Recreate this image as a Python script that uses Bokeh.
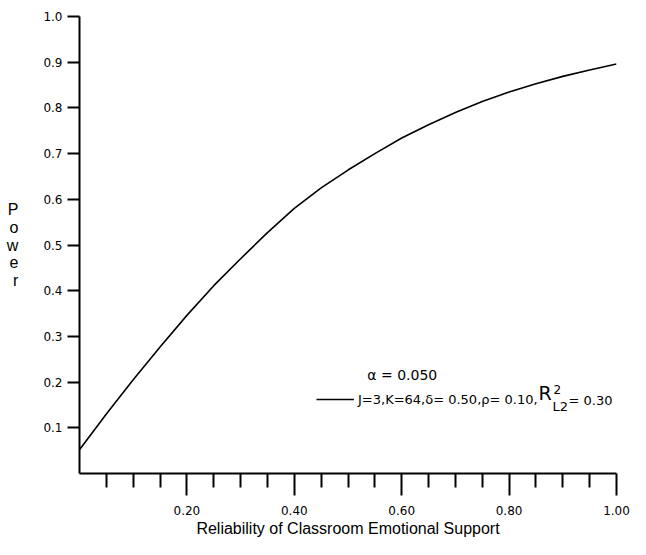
from bokeh.plotting import figure
from bokeh.models import (ColumnDataSource, Range1d, FixedTicker, PrintfTickFormatter,
                          Label, Legend, LegendItem)
from bokeh.embed import file_html
from bokeh.resources import INLINE

# ---- data ----
reliability = [0.00, 0.05, 0.10, 0.15, 0.20, 0.25, 0.30, 0.35, 0.40, 0.45, 0.50,
               0.55, 0.60, 0.65, 0.70, 0.75, 0.80, 0.85, 0.90, 0.95, 1.00]
power = [0.052, 0.130, 0.205, 0.277, 0.346, 0.411, 0.470, 0.527, 0.580, 0.625, 0.664,
         0.700, 0.734, 0.763, 0.790, 0.814, 0.835, 0.853, 0.869, 0.883, 0.896]

x_major = [0.20, 0.40, 0.60, 0.80, 1.00]
x_minor = [0.05, 0.10, 0.15, 0.25, 0.30, 0.35, 0.45, 0.50, 0.55, 0.65, 0.70, 0.75,
           0.85, 0.90, 0.95]
y_ticks = [0.1, 0.2, 0.3, 0.4, 0.5, 0.6, 0.7, 0.8, 0.9, 1.0]

x_title = "Reliability of Classroom Emotional Support"
y_title = "Power"
alpha_text = "α = 0.050"
legend_text = "J=3,K=64,δ= 0.50,ρ= 0.10,"

TICK_FONT = "DejaVu Sans"
TITLE_FONT = "Liberation Sans"

p = figure(width=630, height=539, output_backend="svg", toolbar_location=None,
           x_range=Range1d(0, 1.0), y_range=Range1d(0, 1.0),
           min_border_left=79, min_border_right=14, min_border_top=16, min_border_bottom=62,
           x_axis_location="below", y_axis_location="left")
p.outline_line_color = None
p.grid.visible = False
p.background_fill_color = "white"
p.border_fill_color = "white"

src = ColumnDataSource(dict(x=reliability, y=power))
r = p.line("x", "y", source=src, line_color="black", line_width=1.6)

# x axis
xa = p.xaxis[0]
xa.ticker = FixedTicker(ticks=x_major, minor_ticks=x_minor)
xa.formatter = PrintfTickFormatter(format="%.2f")
xa.axis_line_width = 2
xa.axis_line_color = "black"
xa.major_tick_out = 22
xa.major_tick_in = 0
xa.minor_tick_out = 14
xa.minor_tick_in = 0
xa.major_tick_line_width = 2
xa.minor_tick_line_width = 2
xa.major_tick_line_color = "black"
xa.minor_tick_line_color = "black"
xa.major_label_standoff = 10
xa.major_label_text_font = TICK_FONT
xa.major_label_text_font_size = "12px"
xa.major_label_text_color = "black"
xa.axis_label = x_title
xa.axis_label_standoff = 2
xa.axis_label_text_font = TITLE_FONT
xa.axis_label_text_font_size = "16px"
xa.axis_label_text_font_style = "normal"
xa.axis_label_text_color = "black"

# y axis
ya = p.yaxis[0]
ya.ticker = FixedTicker(ticks=y_ticks, minor_ticks=[])
ya.formatter = PrintfTickFormatter(format="%.1f")
ya.axis_line_width = 2
ya.axis_line_color = "black"
ya.major_tick_out = 12
ya.major_tick_in = 0
ya.major_tick_line_width = 2
ya.major_tick_line_color = "black"
ya.minor_tick_line_color = None
ya.major_label_standoff = 5
ya.major_label_text_font = TICK_FONT
ya.major_label_text_font_size = "12px"
ya.major_label_text_color = "black"
ya.axis_label = "\n".join(y_title)
ya.axis_label_orientation = "horizontal"
ya.axis_label_standoff = 22
ya.axis_label_text_font = TITLE_FONT
ya.axis_label_text_font_size = "16px"
ya.axis_label_text_font_style = "normal"
ya.axis_label_text_color = "black"
ya.axis_label_text_line_height = 1.05

# legend
p.add_layout(Label(x=0.536, y=0.215, text=alpha_text, text_align="left",
                   text_baseline="middle", text_font=TICK_FONT,
                   text_font_size="14px", text_color="black"))
leg = Legend(items=[LegendItem(label=legend_text, renderers=[r])],
             location=(237, 64), padding=0, margin=0, spacing=0,
             glyph_width=38, glyph_height=20, label_height=20, label_standoff=4,
             border_line_color=None, background_fill_alpha=0,
             label_text_font=TICK_FONT, label_text_font_size="13px",
             label_text_color="black")
p.add_layout(leg, "center")
p.add_layout(Label(x=0.8547, y=0.176, text="R", text_align="left",
                   text_baseline="middle", text_font=TICK_FONT,
                   text_font_size="19px", text_color="black"))
p.add_layout(Label(x=0.8827, y=0.184, text="2", text_align="left",
                   text_baseline="middle", text_font=TICK_FONT,
                   text_font_size="12px", text_color="black"))
p.add_layout(Label(x=0.8808, y=0.1475, text="L2", text_align="left",
                   text_baseline="middle", text_font=TICK_FONT,
                   text_font_size="13px", text_color="black"))
p.add_layout(Label(x=0.9106, y=0.1605, text="= 0.30", text_align="left",
                   text_baseline="middle", text_font=TICK_FONT,
                   text_font_size="13px", text_color="black"))

open("out.html", "w").write(file_html(p, INLINE))
